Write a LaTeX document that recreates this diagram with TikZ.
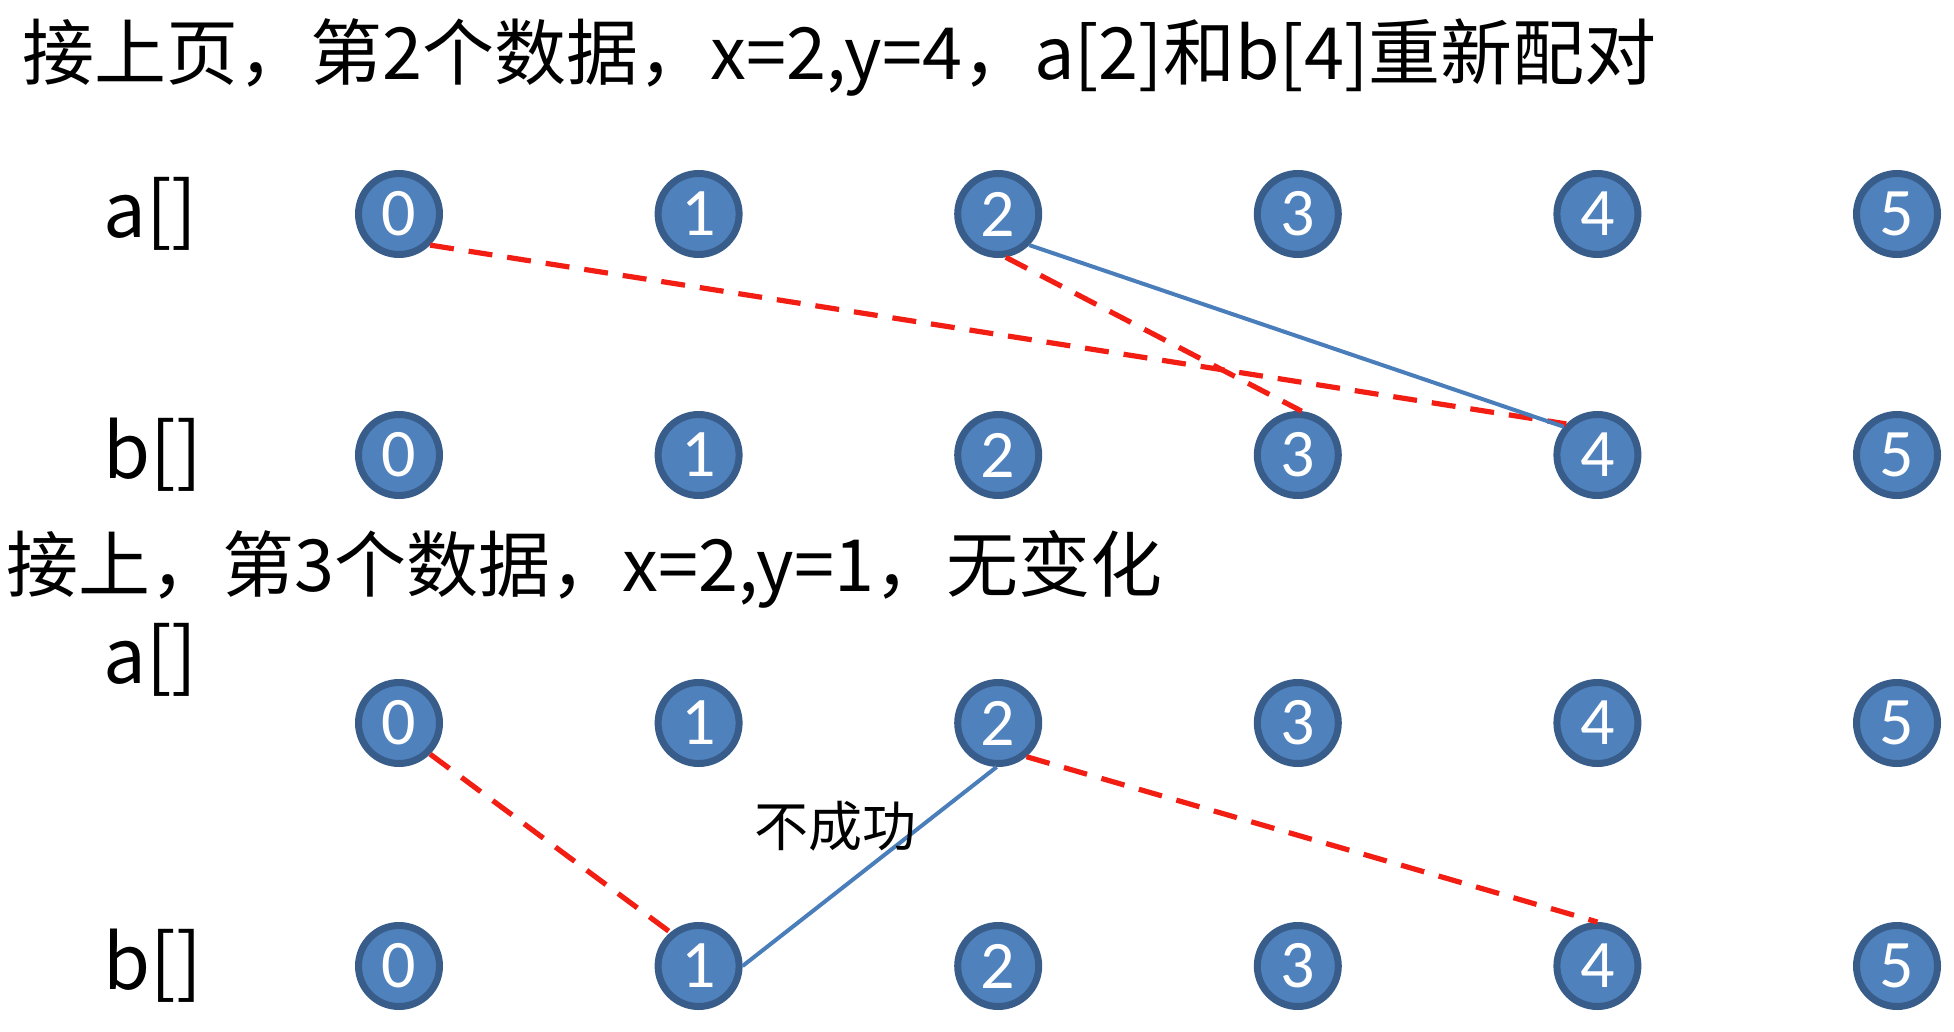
\documentclass[tikz,border=0pt]{standalone}
\usepackage{fontspec}
\setmainfont{Carlito}
\newfontfamily\cjk{Noto Sans CJK SC}
\definecolor{nodefill}{HTML}{4F81BD}
\definecolor{nodeedge}{HTML}{385D8A}
\definecolor{redc}{HTML}{F21E14}
\definecolor{bluec}{HTML}{4A7EBB}
\begin{document}
\begin{tikzpicture}[x=0.5pt,y=-0.5pt,
 dot/.style={circle,fill=nodefill,draw=nodeedge,line width=3.5pt,minimum size=40.5pt,inner sep=0pt,text=white,font=\fontsize{34}{34}\selectfont},
 redline/.style={draw=redc,line width=2.6pt,dash pattern=on 12pt off 7.5pt},
 blueline/.style={draw=bluec,line width=2pt},
 rowlbl/.style={font=\cjk\fontsize{38}{40}\selectfont,inner sep=0pt,anchor=west},
 titletext/.style={font=\cjk\fontsize{36}{40}\selectfont,inner sep=0pt,anchor=west},
 smalltext/.style={font=\cjk\fontsize{27}{30}\selectfont,inner sep=0pt}]
\useasboundingbox (0,0) rectangle (1954,1032);
\fill[white] (0,0) rectangle (1954,1032);
\node[titletext] (t1) at (22,58) {接上页，第2个数据，x=2,y=4，a[2]和b[4]重新配对};
\node[titletext] (t2) at (6,569) {接上，第3个数据，x=2,y=1，无变化};
\node[rowlbl] (la1) at (103,214) {a[]};
\node[rowlbl] (lb1) at (103,455) {b[]};
\node[rowlbl] (la2) at (103,660) {a[]};
\node[rowlbl] (lb2) at (103,966) {b[]};
\foreach \i in {0,...,5}{
  \node[dot] (A\i) at ({399+299.6*\i},214) {\i};
  \node[dot] (B\i) at ({399+299.6*\i},455) {\i};
  \node[dot] (C\i) at ({399+299.6*\i},723) {\i};
  \node[dot] (D\i) at ({399+299.6*\i},966) {\i};
}
\draw[redline] (A0.-45) -- (B4.135);
\draw[redline] (A2.-80) -- (B3.85);
\draw[blueline] (A2.-45) -- (B4.140);
\draw[redline] (C0.-45) -- (D1.130);
\draw[blueline] (C2.-92) -- (D1.east);
\draw[redline] (C2.-50) -- (D4.north);
\node[smalltext] (nf) at (835,826) {不成功};
\end{tikzpicture}
\end{document}
